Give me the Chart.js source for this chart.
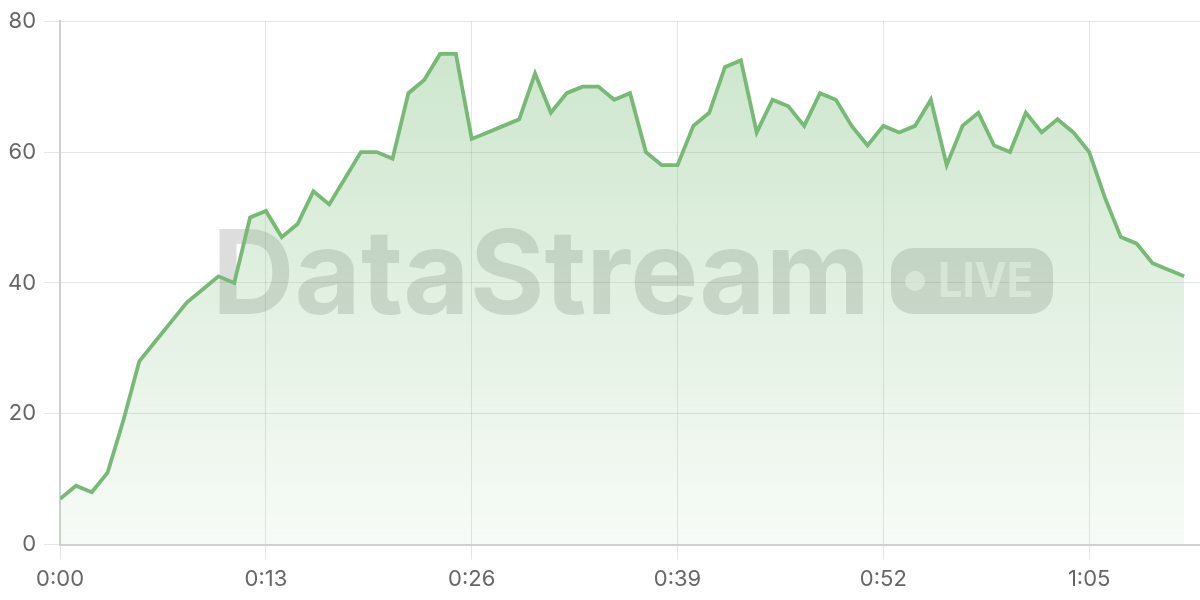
<!DOCTYPE html>
<html>
<head>
<meta charset="utf-8">
<script src="https://cdn.jsdelivr.net/npm/chart.js@4"></script>
<style>
  html, body { margin: 0; padding: 0; background: #fff; }
  #wrap { width: 1200px; height: 600px; }
</style>
</head>
<body>
<div id="wrap"><canvas id="chart"></canvas></div>
<script>
// seconds elapsed, one reading per second
const seconds = [
  0, 1, 2, 3, 4, 5, 6, 7, 8, 9, 10, 11, 12, 13, 14, 15, 16, 17,
  18, 19, 20, 21, 22, 23, 24, 25, 26, 27, 28, 29, 30, 31, 32, 33, 34, 35,
  36, 37, 38, 39, 40, 41, 42, 43, 44, 45, 46, 47, 48, 49, 50, 51, 52, 53,
  54, 55, 56, 57, 58, 59, 60, 61, 62, 63, 64, 65, 66, 67, 68, 69, 70, 71
];
const readings = [
  7, 9, 8, 11, 19, 28, 31, 34, 37, 39, 41, 40, 50, 51, 47, 49, 54, 52,
  56, 60, 60, 59, 69, 71, 75, 75, 62, 63, 64, 65, 72, 66, 69, 70, 70, 68,
  69, 60, 58, 58, 64, 66, 73, 74, 63, 68, 67, 64, 69, 68, 64, 61, 64, 63,
  64, 68, 58, 64, 66, 61, 60, 66, 63, 65, 63, 60, 53, 47, 46, 43, 42, 41
];
const xTicks = [0, 13, 26, 39, 52, 65];
const yTicks = [0, 20, 40, 60, 80];

const GREEN = "rgb(118,186,118)";
const FONT = "Inter, 'Liberation Sans', sans-serif";

const fmtTime = v => Math.floor(v / 60) + ":" + String(v % 60).padStart(2, "0");

// "DataStream • LIVE" watermark behind the line
const watermark = {
  id: "watermark",
  beforeDatasetsDraw(chart) {
    const ctx = chart.ctx;
    ctx.save();
    ctx.fillStyle = "rgba(0,0,0,0.135)";
    ctx.font = "bold 117px " + FONT;
    ctx.textBaseline = "alphabetic";
    ctx.textAlign = "left";
    const txt = "DataStream";
    const w = ctx.measureText(txt).width;
    const left = 212, right = 870, base = 314;
    ctx.translate(left, base);
    ctx.scale((right - left) / w, 1);
    ctx.fillText(txt, 0, 0);
    ctx.restore();

    // badge
    ctx.save();
    const bx = 891, by = 248, bw = 162, bh = 66, r = 22;
    ctx.fillStyle = "rgba(0,0,0,0.135)";
    ctx.beginPath();
    ctx.roundRect(bx, by, bw, bh, r);
    ctx.fill();
    ctx.fillStyle = "rgba(255,255,255,0.62)";
    ctx.beginPath();
    ctx.arc(915, 281, 10, 0, Math.PI * 2);
    ctx.fill();
    ctx.font = "bold 48px " + FONT;
    ctx.textBaseline = "alphabetic";
    const lw = ctx.measureText("LIVE").width;
    ctx.translate(938, 297);
    ctx.scale(95 / lw, 1);
    ctx.fillText("LIVE", 0, 0);
    ctx.restore();
  }
};

new Chart(document.getElementById("chart").getContext("2d"), {
  type: "line",
  data: {
    datasets: [
      {
        data: seconds.map((s, i) => ({ x: s, y: readings[i] })),
        borderColor: GREEN,
        borderWidth: 3.8,
        pointRadius: 0,
        tension: 0,
        fill: "origin",
        backgroundColor: ctx => {
          const area = ctx.chart.chartArea;
          if (!area) return "rgba(118,186,118,0.2)";
          const g = ctx.chart.ctx.createLinearGradient(0, area.top, 0, area.bottom);
          g.addColorStop(0, "rgba(118,186,118,0.38)");
          g.addColorStop(1, "rgba(118,186,118,0.06)");
          return g;
        }
      }
    ]
  },
  options: {
    responsive: true,
    maintainAspectRatio: false,
    animation: false,
    layout: { padding: { top: 6, left: 0, right: 0, bottom: 0 } },
    plugins: {
      legend: { display: false },
      tooltip: { enabled: false }
    },
    scales: {
      x: {
        type: "linear",
        min: 0,
        max: 72,
        afterBuildTicks: axis => { axis.ticks = xTicks.map(v => ({ value: v })); },
        ticks: {
          callback: v => fmtTime(v),
          color: "#666",
          font: { family: FONT, size: 22 },
          padding: 7,
          maxRotation: 0
        },
        grid: { color: "rgba(0,0,0,0.1)", tickLength: 15 },
        border: { color: "#d0d0d0", width: 2 }
      },
      y: {
        min: 0,
        max: 80,
        afterBuildTicks: axis => { axis.ticks = yTicks.map(v => ({ value: v })); },
        ticks: {
          color: "#666",
          font: { family: FONT, size: 22 },
          padding: 8
        },
        grid: { color: "rgba(0,0,0,0.1)", tickLength: 16 },
        border: { color: "#d0d0d0", width: 2 }
      }
    }
  },
  plugins: [watermark]
});
</script>
</body>
</html>
